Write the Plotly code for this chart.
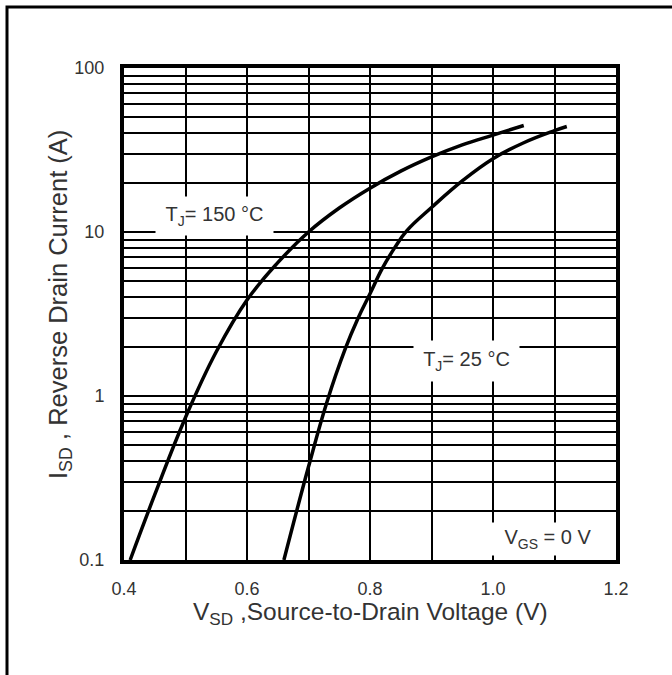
import plotly.graph_objects as go

# T_J = 150 °C curve
v_150 = [0.41, 0.45, 0.50, 0.55, 0.60, 0.65, 0.70, 0.75, 0.80, 0.85, 0.90, 0.95, 1.00, 1.05]
i_150 = [0.10, 0.25, 0.74, 1.86, 3.85, 6.5, 10.0, 14.0, 18.5, 23.5, 28.7, 34.0, 39.0, 44.6]

# T_J = 25 °C curve
v_25 = [0.66, 0.70, 0.73, 0.76, 0.78, 0.80, 0.82, 0.84, 0.86, 0.90, 0.95, 1.00, 1.05, 1.10, 1.12]
i_25 = [0.10, 0.37, 0.92, 1.95, 2.95, 4.2, 6.0, 8.0, 10.2, 14.1, 20.5, 28.0, 35.0, 41.5, 44.0]

x_ticks = [0.4, 0.5, 0.6, 0.7, 0.8, 0.9, 1.0, 1.1, 1.2]
x_labels = ["0.4", "", "0.6", "", "0.8", "", "1.0", "", "1.2"]

decades = [0.1, 1, 10, 100]
decade_labels = ["0.1", "1", "10", "100"]

y_ticks, y_labels = [], []
for d, lab in zip(decades[:-1], decade_labels[:-1]):
    for m in range(1, 10):
        y_ticks.append(round(d * m, 6))
        y_labels.append(lab if m == 1 else "")
y_ticks.append(100)
y_labels.append("100")

FONT = "Liberation Sans, Arial, sans-serif"
TXT = "#333333"

fig = go.Figure()
fig.add_trace(go.Scatter(x=v_150, y=i_150, mode="lines",
                         line=dict(color="black", width=3.5, shape="spline", smoothing=1.2),
                         showlegend=False, hoverinfo="skip"))
fig.add_trace(go.Scatter(x=v_25, y=i_25, mode="lines",
                         line=dict(color="black", width=3.5, shape="spline", smoothing=1.2),
                         showlegend=False, hoverinfo="skip"))

W, H = 672, 675
L, R, T, B = 124, 616, 68, 560  # plot area in window pixels
pw, ph = R - L, B - T

def px(x):
    return (x - L) / pw

def py(y):
    return (B - y) / ph

fig.update_layout(
    width=W, height=H,
    margin=dict(l=L, r=W - R, t=T, b=H - B),
    paper_bgcolor="white", plot_bgcolor="white",
    font=dict(family=FONT, color=TXT, size=18),
    xaxis=dict(range=[0.4, 1.2], tickvals=x_ticks, ticktext=x_labels, showgrid=True, gridcolor="black",
               gridwidth=1.5, showline=True, linecolor="black", linewidth=4, mirror=True, ticks="",
               zeroline=False, tickfont=dict(size=18, color=TXT), ticklabelstandoff=9),
    yaxis=dict(type="log", range=[-1, 2], tickvals=y_ticks, ticktext=y_labels, showgrid=True,
               gridcolor="black", gridwidth=1.5, showline=True, linecolor="black", linewidth=4,
               mirror=True, ticks="", zeroline=False, tickfont=dict(size=18, color=TXT),
               ticklabelstandoff=12),
)

annotations = [
    dict(text="V<sub>SD</sub> ,Source-to-Drain Voltage (V)", x=px(370), y=py(613), xref="paper", yref="paper",
         showarrow=False, font=dict(size=24.5, color=TXT), xanchor="center", yanchor="middle"),
    dict(text="I<sub>SD</sub> , Reverse Drain Current (A)", x=px(60), y=py(305), xref="paper", yref="paper",
         showarrow=False, textangle=-90, font=dict(size=25.5, color=TXT), xanchor="center", yanchor="middle"),
    dict(text="T<sub>J</sub>= 150 °C", x=px(214.5), y=py(216), xref="paper", yref="paper", showarrow=False,
         font=dict(size=20, color=TXT), bgcolor="white", width=115, height=36,
         xanchor="center", yanchor="middle"),
    dict(text="T<sub>J</sub>= 25 °C", x=px(466.5), y=py(361), xref="paper", yref="paper", showarrow=False,
         font=dict(size=20, color=TXT), bgcolor="white", width=103, height=38,
         xanchor="center", yanchor="middle"),
    dict(text="V<sub>GS</sub> = 0 V", x=px(548), y=py(539), xref="paper", yref="paper", showarrow=False,
         font=dict(size=20, color=TXT), bgcolor="white", width=124, height=30,
         xanchor="center", yanchor="middle"),
]
fig.update_layout(annotations=annotations)

fig.add_shape(type="rect", xref="paper", yref="paper", x0=px(7), x1=px(720), y0=py(720), y1=py(7),
              line=dict(color="black", width=3), fillcolor="rgba(0,0,0,0)", layer="above")

fig.write_html("out.html", config={"displayModeBar": False},
               post_script="document.body.style.margin='0';")
